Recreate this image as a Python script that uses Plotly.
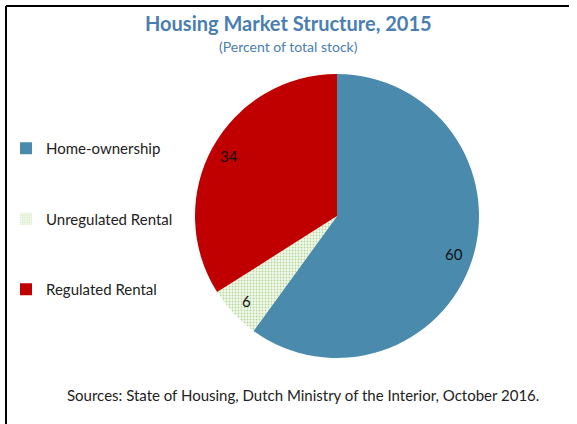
import math
import plotly.graph_objects as go

# data
labels = ["Home-ownership", "Unregulated Rental", "Regulated Rental"]
values = [60, 6, 34]
colors = ["#4A8BAD", "#E4F2D6", "#C00000"]

W, H = 577, 424
FONT = "Lato"

# pie position (px from top-left)
cx, cy, r = 337, 216, 142

fig = go.Figure()

fig.add_trace(
    go.Pie(
        labels=labels, values=values,
        sort=False, direction="clockwise", rotation=0,
        marker=dict(
            colors=colors,
            line=dict(width=0),
            pattern=dict(
                shape=["", ".", ""],
                fgcolor=["#4A8BAD", "#B5D69A", "#C00000"],
                bgcolor=["#4A8BAD", "#F2F9EC", "#C00000"],
                size=3, solidity=0.3,
            ),
        ),
        textinfo="none",
        showlegend=False,
        hoverinfo="label+value",
        domain=dict(x=[(cx - r) / W, (cx + r) / W],
                    y=[(H - cy - r) / H, (H - cy + r) / H]),
    )
)

# legend entries, one group each so they can be spaced out
for i, name in enumerate(labels):
    fig.add_trace(
        go.Bar(
            x=[None], y=[None], name=name, legendgroup=name,
            marker=dict(
                color=colors[i], line=dict(width=0),
                pattern=dict(shape="." if i == 1 else "",
                             fgcolor="#B5D69A", bgcolor="#F2F9EC",
                             size=3, solidity=0.3),
            ),
        )
    )

# value labels near the outer edge of each slice (excel style)
annots = []
total = sum(values)
start = 0
for v in values:
    mid = (start + v / 2) / total * 2 * math.pi
    start += v
    px = cx + 0.87 * r * math.sin(mid)
    py = cy - 0.87 * r * math.cos(mid)
    annots.append(dict(text=str(v), x=px / W, y=(H - py) / H,
                       xref="paper", yref="paper", showarrow=False,
                       xanchor="center", yanchor="middle",
                       font=dict(family=FONT, size=15, color="#111111")))

annots += [
    dict(text="<b>Housing Market Structure, 2015</b>", x=0.5, y=(H - 23) / H,
         xref="paper", yref="paper", showarrow=False, yanchor="middle",
         font=dict(family=FONT, size=20, color="#4A7EB0")),
    dict(text="(Percent of total stock)", x=0.5, y=(H - 46) / H,
         xref="paper", yref="paper", showarrow=False, yanchor="middle",
         font=dict(family=FONT, size=14, color="#4A7EB0")),
    dict(text="Sources: State of Housing, Dutch Ministry of the Interior, October 2016.",
         x=303 / W, y=(H - 395) / H, xref="paper", yref="paper", showarrow=False,
         yanchor="middle",
         font=dict(family=FONT, size=15, color="#222222")),
]

fig.update_layout(
    width=W, height=H,
    margin=dict(l=0, r=0, t=0, b=0),
    paper_bgcolor="white", plot_bgcolor="white",
    xaxis=dict(visible=False), yaxis=dict(visible=False),
    legend=dict(
        x=6 / W, y=(H - 132) / H, xanchor="left", yanchor="top",
        font=dict(family=FONT, size=15, color="#222222"),
        tracegroupgap=48, itemwidth=30, bgcolor="rgba(0,0,0,0)",
    ),
    annotations=annots,
    shapes=[
        dict(type="line", xref="paper", yref="paper",
             x0=6 / W, x1=6 / W, y0=0, y1=(H - 6) / H,
             line=dict(color="black", width=2)),
        dict(type="line", xref="paper", yref="paper",
             x0=6 / W, x1=569 / W, y0=(H - 6) / H, y1=(H - 6) / H,
             line=dict(color="black", width=2)),
    ],
)

fig.write_html("out.html", config={"displayModeBar": False},
               post_script="document.body.style.margin='0px';")
